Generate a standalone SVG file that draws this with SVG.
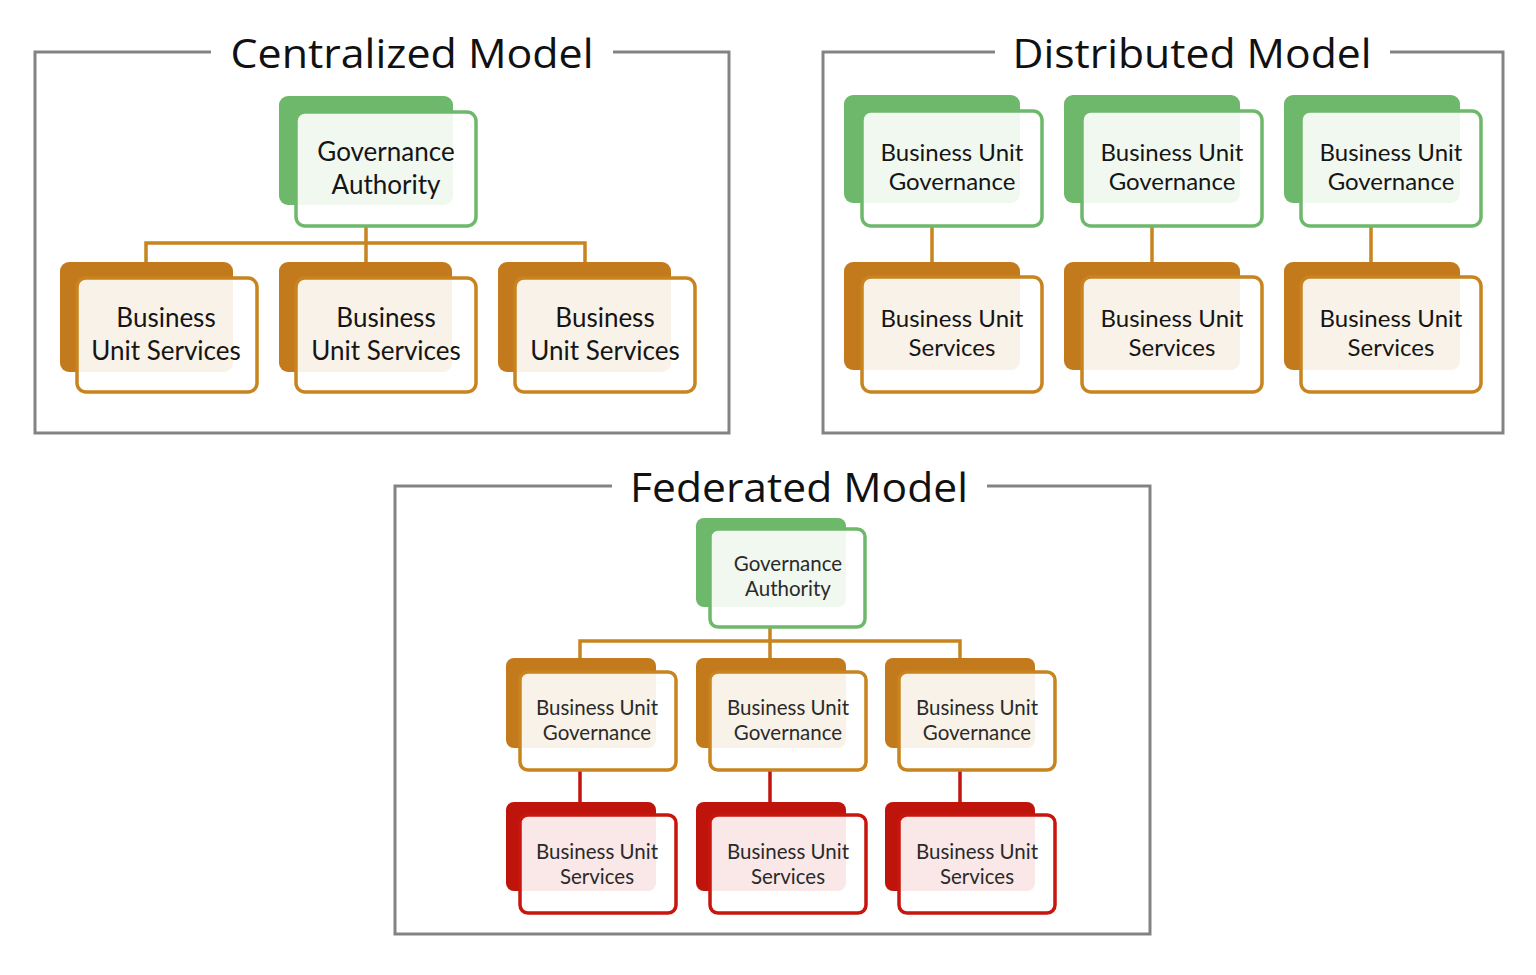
<svg xmlns="http://www.w3.org/2000/svg" width="1536" height="975" viewBox="0 0 1536 975">
<style>
.frame{fill:none;stroke:#838383;stroke-width:3}
.title{font-family:"Open Sans","Liberation Sans",sans-serif;font-size:41px;fill:#111;text-anchor:middle}
.g .b{fill:#6db86b}.g .f{stroke:#6db86b}
.o .b{fill:#c27a1c}.o .f{stroke:#c8841e}
.r .b{fill:#bf140c}.r .f{stroke:#c8160e}
.b{stroke:none}
.f{fill:#ffffff;fill-opacity:0.9;stroke-width:3.5}
.t{font-family:Lato,"Open Sans","Liberation Sans",sans-serif;fill:#151515;text-anchor:middle}
.t26{font-size:26px}.t24{font-size:24px}.t20{font-size:20.5px;fill:#2a2a2a}
.co{fill:none;stroke:#c8841e;stroke-width:3.5}
.cr{fill:none;stroke:#c0160c;stroke-width:3.5}
</style>
<rect width="1536" height="975" fill="#ffffff"/>

<!-- Frames -->
<g id="frame-centralized">
<path class="frame" d="M211,52 H35 V433 H729 V52 H613"/>
<text class="title" x="412" y="68" textLength="363" lengthAdjust="spacingAndGlyphs">Centralized Model</text>
</g>
<g id="frame-distributed">
<path class="frame" d="M995,52 H823 V433 H1503 V52 H1390"/>
<text class="title" x="1192" y="68" textLength="359" lengthAdjust="spacingAndGlyphs">Distributed Model</text>
</g>
<g id="frame-federated">
<path class="frame" d="M612,486 H395 V934 H1150 V486 H987"/>
<text class="title" x="799" y="502" textLength="338" lengthAdjust="spacingAndGlyphs">Federated Model</text>
</g>

<!-- Connectors -->
<g id="connectors">
<path class="co" d="M366,227 V243 M146,262 V243 H585 V262 M366,243 V262"/>
<path class="co" d="M932,227 V262 M1152,227 V262 M1371,227 V262"/>
<path class="co" d="M770,627 V641 M580,658 V641 H960 V658 M770,641 V658"/>
<path class="cr" d="M580,770 V802 M770,770 V802 M960,770 V802"/>
</g>

<!-- Centralized -->
<g id="c-ga" class="g">
<rect class="b" x="279" y="96" width="174" height="109" rx="9"/>
<rect class="f" x="296" y="112" width="180" height="114" rx="9"/>
<text class="t t26" x="386" y="161">Governance</text>
<text class="t t26" x="386" y="194">Authority</text>
</g>
<g id="c-bus1" class="o">
<rect class="b" x="60" y="262" width="173" height="110" rx="9"/>
<rect class="f" x="77" y="278" width="180" height="114" rx="9"/>
<text class="t t26" x="166" y="327">Business</text>
<text class="t t26" x="166" y="360">Unit Services</text>
</g>
<g id="c-bus2" class="o">
<rect class="b" x="279" y="262" width="173" height="110" rx="9"/>
<rect class="f" x="296" y="278" width="180" height="114" rx="9"/>
<text class="t t26" x="386" y="327">Business</text>
<text class="t t26" x="386" y="360">Unit Services</text>
</g>
<g id="c-bus3" class="o">
<rect class="b" x="498" y="262" width="173" height="110" rx="9"/>
<rect class="f" x="515" y="278" width="180" height="114" rx="9"/>
<text class="t t26" x="605" y="327">Business</text>
<text class="t t26" x="605" y="360">Unit Services</text>
</g>

<!-- Distributed -->
<g id="d-bug1" class="g">
<rect class="b" x="844" y="95" width="176" height="108" rx="9"/>
<rect class="f" x="862" y="111" width="180" height="115" rx="9"/>
<text class="t t24" x="952" y="161">Business Unit</text>
<text class="t t24" x="952" y="190">Governance</text>
</g>
<g id="d-bug2" class="g">
<rect class="b" x="1064" y="95" width="176" height="108" rx="9"/>
<rect class="f" x="1082" y="111" width="180" height="115" rx="9"/>
<text class="t t24" x="1172" y="161">Business Unit</text>
<text class="t t24" x="1172" y="190">Governance</text>
</g>
<g id="d-bug3" class="g">
<rect class="b" x="1284" y="95" width="176" height="108" rx="9"/>
<rect class="f" x="1301" y="111" width="180" height="115" rx="9"/>
<text class="t t24" x="1391" y="161">Business Unit</text>
<text class="t t24" x="1391" y="190">Governance</text>
</g>
<g id="d-bus1" class="o">
<rect class="b" x="844" y="262" width="176" height="108" rx="9"/>
<rect class="f" x="862" y="277" width="180" height="115" rx="9"/>
<text class="t t24" x="952" y="327">Business Unit</text>
<text class="t t24" x="952" y="356">Services</text>
</g>
<g id="d-bus2" class="o">
<rect class="b" x="1064" y="262" width="176" height="108" rx="9"/>
<rect class="f" x="1082" y="277" width="180" height="115" rx="9"/>
<text class="t t24" x="1172" y="327">Business Unit</text>
<text class="t t24" x="1172" y="356">Services</text>
</g>
<g id="d-bus3" class="o">
<rect class="b" x="1284" y="262" width="176" height="108" rx="9"/>
<rect class="f" x="1301" y="277" width="180" height="115" rx="9"/>
<text class="t t24" x="1391" y="327">Business Unit</text>
<text class="t t24" x="1391" y="356">Services</text>
</g>

<!-- Federated -->
<g id="f-ga" class="g">
<rect class="b" x="696" y="518" width="150" height="89" rx="8"/>
<rect class="f" x="710" y="529" width="155" height="98" rx="8"/>
<text class="t t20" x="788" y="571">Governance</text>
<text class="t t20" x="788" y="596">Authority</text>
</g>
<g id="f-bug1" class="o">
<rect class="b" x="506" y="658" width="150" height="90" rx="8"/>
<rect class="f" x="520" y="672" width="156" height="98" rx="8"/>
<text class="t t20" x="597" y="715">Business Unit</text>
<text class="t t20" x="597" y="740">Governance</text>
</g>
<g id="f-bug2" class="o">
<rect class="b" x="696" y="658" width="150" height="90" rx="8"/>
<rect class="f" x="710" y="672" width="156" height="98" rx="8"/>
<text class="t t20" x="788" y="715">Business Unit</text>
<text class="t t20" x="788" y="740">Governance</text>
</g>
<g id="f-bug3" class="o">
<rect class="b" x="885" y="658" width="150" height="90" rx="8"/>
<rect class="f" x="899" y="672" width="156" height="98" rx="8"/>
<text class="t t20" x="977" y="715">Business Unit</text>
<text class="t t20" x="977" y="740">Governance</text>
</g>
<g id="f-bus1" class="r">
<rect class="b" x="506" y="802" width="150" height="89" rx="8"/>
<rect class="f" x="520" y="815" width="156" height="98" rx="8"/>
<text class="t t20" x="597" y="859">Business Unit</text>
<text class="t t20" x="597" y="884">Services</text>
</g>
<g id="f-bus2" class="r">
<rect class="b" x="696" y="802" width="150" height="89" rx="8"/>
<rect class="f" x="710" y="815" width="156" height="98" rx="8"/>
<text class="t t20" x="788" y="859">Business Unit</text>
<text class="t t20" x="788" y="884">Services</text>
</g>
<g id="f-bus3" class="r">
<rect class="b" x="885" y="802" width="150" height="89" rx="8"/>
<rect class="f" x="899" y="815" width="156" height="98" rx="8"/>
<text class="t t20" x="977" y="859">Business Unit</text>
<text class="t t20" x="977" y="884">Services</text>
</g>
</svg>
